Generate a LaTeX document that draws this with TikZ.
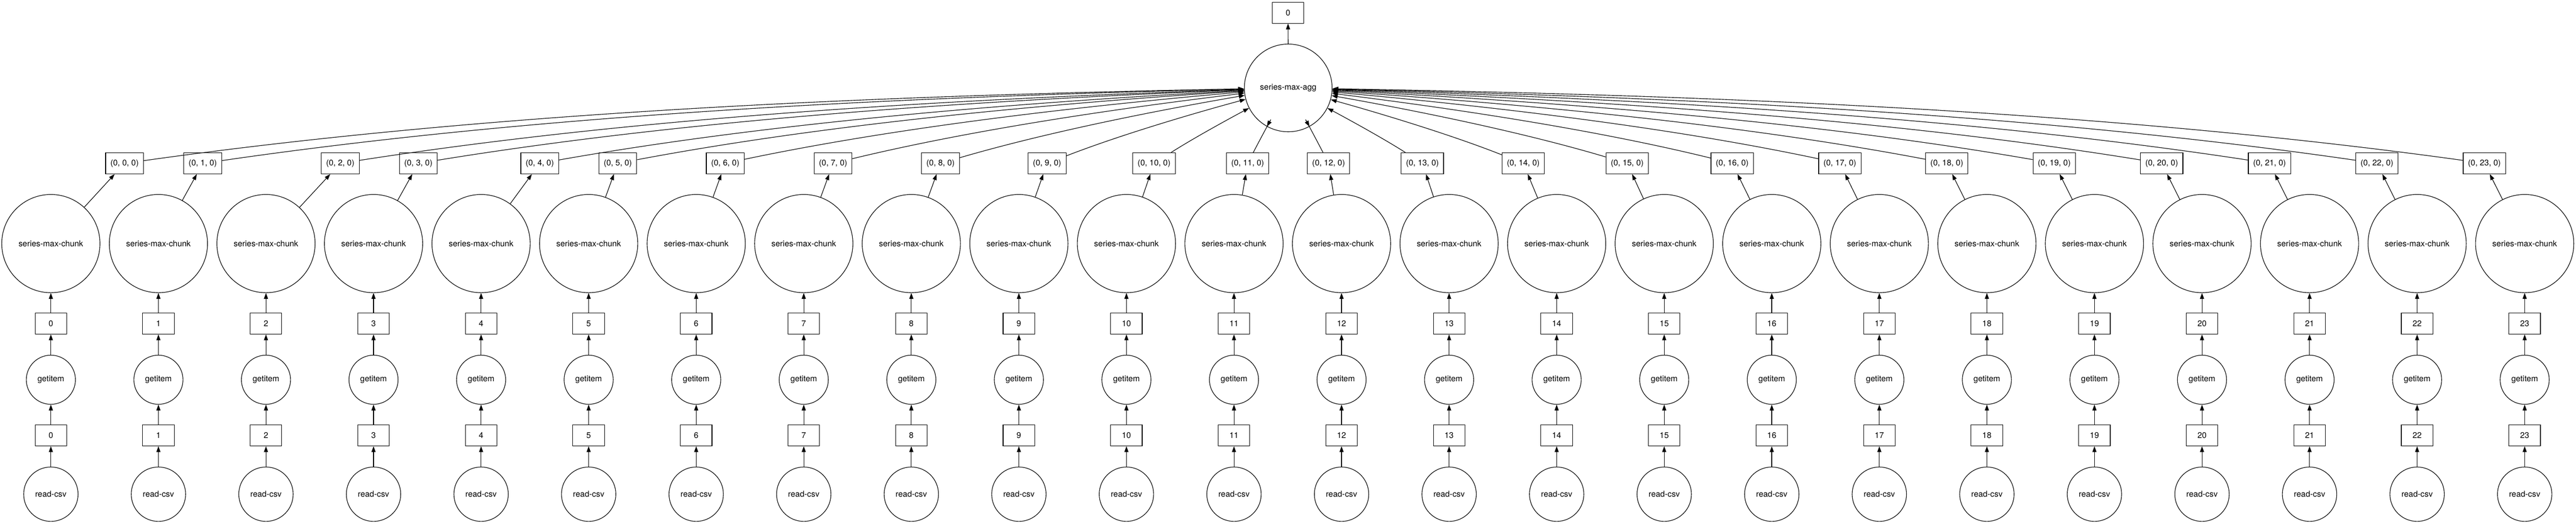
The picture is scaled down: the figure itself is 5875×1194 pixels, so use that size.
\documentclass[tikz,border=0pt]{standalone}
\usepackage{fontspec}
\setmainfont{TeX Gyre Heros}
\usetikzlibrary{arrows.meta}
\begin{document}
\begin{tikzpicture}[x=0.75pt,y=-0.75pt,
  every node/.style={font=\fontsize{14}{16}\selectfont, draw, line width=1pt, inner sep=0pt},
  databox/.style={rectangle, minimum width=54pt, minimum height=36pt},
  tuplebox/.style={rectangle, minimum height=36pt, inner xsep=8.25pt},
  fnnode/.style={circle},
  edge/.style={-{Triangle[length=10pt,width=7pt]}, line width=1pt}
]
\fill[white] (0,0) rectangle (5875,1194);
\useasboundingbox (0,0) rectangle (5875,1194);

\node[databox] (out) at (2937.5,29) {0};
\node[fnnode, minimum size=150pt] (agg) at (2938,200.5) {series-max-agg};
\draw[edge] (agg) -- (out);

\foreach \i/\tx in {0/284, 1/462.5, 2/776, 3/954, 4/1231, 5/1409, 6/1654, 7/1900,
                    8/2145, 9/2388, 10/2632, 11/2845.5, 12/3030, 13/3244, 14/3474, 15/3711,
                    16/3950.5, 17/4196, 18/4440, 19/4685, 20/4930, 21/5176, 22/5421, 23/5666} {
  \pgfmathsetmacro\cx{116+245.3*\i}
  \pgfmathsetmacro\dx{2938-\tx}
  \pgfmathsetmacro\pax{\tx+0.33*\dx}
  \pgfmathsetmacro\pay{372.5-0.33*172-0.025*abs(\dx)}
  \pgfmathsetmacro\pbx{2938-0.33*\dx}
  \pgfmathsetmacro\pby{200.5+0.33*172-0.015*abs(\dx)}
  \node[tuplebox] (t\i) at (\tx,372.5) {(0, \i, 0)};
  \node[fnnode, minimum size=168pt] (c\i) at (\cx,555.5) {series-max-chunk};
  \node[databox] (b\i) at (\cx,738) {\i};
  \node[fnnode, minimum size=84pt] (g\i) at (\cx,866) {getitem};
  \node[databox] (a\i) at (\cx,993) {\i};
  \node[fnnode, minimum size=93pt] (r\i) at (\cx,1127) {read-csv};
  \draw[edge] (r\i) -- (a\i);
  \draw[edge] (a\i) -- (g\i);
  \draw[edge] (g\i) -- (b\i);
  \draw[edge] (b\i) -- (c\i);
  \draw[edge] (c\i) -- (t\i);
  \draw[edge] (t\i) .. controls (\pax,\pay) and (\pbx,\pby) .. (agg);
}
\end{tikzpicture}
\end{document}
